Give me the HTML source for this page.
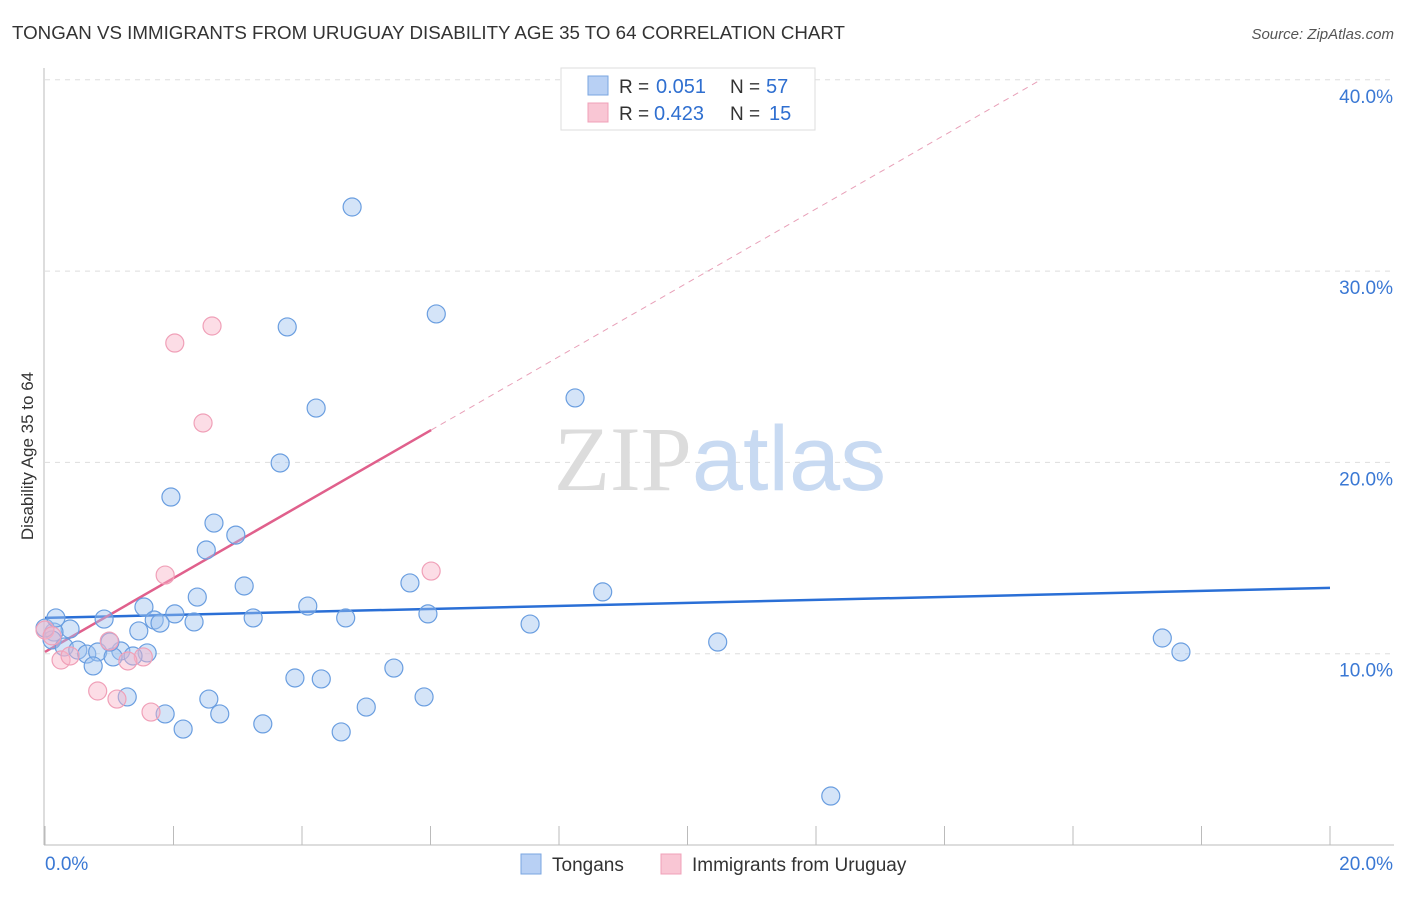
<!DOCTYPE html>
<html><head><meta charset="utf-8"><style>
body{margin:0;background:#fff;font-family:"Liberation Sans",sans-serif;}
svg text{font-family:"Liberation Sans",sans-serif;}
</style></head><body>
<svg id="chart" width="1406" height="892" viewBox="0 0 1406 892" xmlns="http://www.w3.org/2000/svg">
<text x="12" y="39" font-size="18" fill="#333" textLength="833" lengthAdjust="spacingAndGlyphs">TONGAN VS IMMIGRANTS FROM URUGUAY DISABILITY AGE 35 TO 64 CORRELATION CHART</text>
<text x="1394" y="39" font-size="15" fill="#555" font-style="italic" text-anchor="end">Source: ZipAtlas.com</text>
<g id="grid"></g>
<g id="axes"></g>
<text x="720" y="490" font-size="92" text-anchor="middle"><tspan fill="#dcdcdc" font-family="Liberation Serif,serif">ZIP</tspan><tspan fill="#c8daf2">atlas</tspan></text>
<g id="trend"></g>
<g id="points"></g>
<text transform="translate(33,456) rotate(-90)" font-size="17" fill="#333" text-anchor="middle">Disability Age 35 to 64</text>
<g>
<rect x="561" y="68" width="254" height="62" fill="#fff" stroke="#ddd"/>
<rect x="588" y="76" width="20" height="19" fill="#b8d0f4" stroke="#7aa6e0"/>
<rect x="588" y="103" width="20" height="19" fill="#f9c6d4" stroke="#f0a0b8"/>
<text x="619" y="93" font-size="19" fill="#333">R =</text>
<text x="656" y="93" font-size="20" fill="#2f6fd0">0.051</text>
<text x="730" y="93" font-size="19" fill="#333">N =</text>
<text x="766" y="93" font-size="20" fill="#2f6fd0">57</text>
<text x="619" y="120" font-size="19" fill="#333">R =</text>
<text x="654" y="120" font-size="20" fill="#2f6fd0">0.423</text>
<text x="730" y="120" font-size="19" fill="#333">N =</text>
<text x="769" y="120" font-size="20" fill="#2f6fd0">15</text>
</g>
<g>
<rect x="521" y="854" width="20" height="20" fill="#b8d0f4" stroke="#7aa6e0"/>
<text x="552" y="871" font-size="19" fill="#333">Tongans</text>
<rect x="661" y="854" width="20" height="20" fill="#f9c6d4" stroke="#f0a0b8"/>
<text x="692" y="871" font-size="19" fill="#333">Immigrants from Uruguay</text>
</g>
</svg>
<script>
const yTicks=[10,20,30,40];
const yTickLabels=["10.0%","20.0%","30.0%","40.0%"];
const xTickLabels=["0.0%","20.0%"];
const tonganX=[4.78,6.09,3.77,4.22,8.25,3.66,1.96,2.63,2.97,2.51,3.10,5.68,8.68,2.37,4.09,1.54,2.02,1.70,1.79,2.32,3.24,4.68,5.96,0.92,7.55,1.46,0.39,17.39,10.47,17.68,0.14,0.11,0.30,0.51,0.65,0.82,1.18,1.59,1.06,1.37,0.75,5.43,3.89,4.30,1.28,2.55,1.87,2.72,5.00,5.90,3.39,2.15,4.61,12.23,0,0.17,1.01];
const tonganY=[33.35,27.76,27.08,22.84,23.37,19.97,18.19,16.83,16.20,15.42,13.54,13.70,13.23,12.96,12.49,12.44,12.08,11.76,11.60,11.66,11.87,11.87,12.08,11.81,11.55,11.19,11.29,10.82,10.61,10.09,11.13,10.72,10.35,10.19,9.98,10.09,10.14,10.04,9.83,9.88,9.36,9.25,8.73,8.68,7.74,7.63,6.85,6.85,7.21,7.74,6.33,6.06,5.91,2.56,11.34,11.87,10.61];
const uruguayX=[2.60,2.02,2.46,1.87,6.01,1.00,1.53,1.29,0.25,0.39,0.82,1.12,1.65,0,0.11];
const uruguayY=[27.13,26.24,22.06,14.11,14.32,10.66,9.83,9.62,9.67,9.88,8.05,7.63,6.95,11.24,10.93];
const tonganTrend=[11.87,13.44];
const uruguayTrend=[10.09,1.93];
const NS="http://www.w3.org/2000/svg";
const xs=v=>45+v/20*1285;
const ys=v=>845-v*19.13;
function mk(tag,attrs,parent){const e=document.createElementNS(NS,tag);for(const k in attrs)e.setAttribute(k,attrs[k]);document.getElementById(parent).appendChild(e);return e;}
yTicks.forEach((t,i)=>{
 const g=mk('line',{x1:45,x2:1394,y1:ys(t),y2:ys(t),stroke:'#ddd','stroke-dasharray':'5,5'},'grid');
 
 
 const l=mk('text',{x:1393,y:ys(t)+23,'font-size':19,fill:'#3a78d4','text-anchor':'end'},'axes');
 l.textContent=yTickLabels[i];
 
 
});
mk('line',{x1:44,x2:44,y1:68,y2:845,stroke:'#bbb'},'axes');
mk('line',{x1:44,x2:1394,y1:845,y2:845,stroke:'#bbb'},'axes');
for(let i=0;i<=10;i++){const t=mk('line',{x1:xs(i*2),x2:xs(i*2),y1:826,y2:845,stroke:'#bbb'},'axes');
 
 }
const xl0=mk('text',{x:45,y:870,'font-size':19,fill:'#3a78d4'},'axes');xl0.textContent=xTickLabels[0];


const xl1=mk('text',{x:1393,y:870,'font-size':19,fill:'#3a78d4','text-anchor':'end'},'axes');xl1.textContent=xTickLabels[1];


const bt=mk('line',{x1:xs(0),y1:ys(tonganTrend[0]),x2:xs(20),y2:ys(tonganTrend[1]),stroke:'#2a6fd6','stroke-width':2.5},'trend');


const xEnd=6.01, xMax=(40-uruguayTrend[0])/uruguayTrend[1];
const pt=mk('line',{x1:xs(0),y1:ys(uruguayTrend[0]),x2:xs(xEnd),y2:ys(uruguayTrend[0]+uruguayTrend[1]*xEnd),stroke:'#e0608c','stroke-width':2.5},'trend');


const pd=mk('line',{x1:xs(xEnd),y1:ys(uruguayTrend[0]+uruguayTrend[1]*xEnd),x2:xs(xMax),y2:ys(40),stroke:'#e8a0b8','stroke-width':1,'stroke-dasharray':'6,5'},'trend');


tonganX.forEach((x,i)=>{const c=mk('circle',{cx:xs(x),cy:ys(tonganY[i]),r:9,fill:'rgba(160,196,240,0.45)',stroke:'#6a9ee0','stroke-width':1.2},'points');
 
 });
uruguayX.forEach((x,i)=>{const c=mk('circle',{cx:xs(x),cy:ys(uruguayY[i]),r:9,fill:'rgba(248,180,200,0.45)',stroke:'#f0a0b8','stroke-width':1.2},'points');
 
 });
</script>
</body></html>
